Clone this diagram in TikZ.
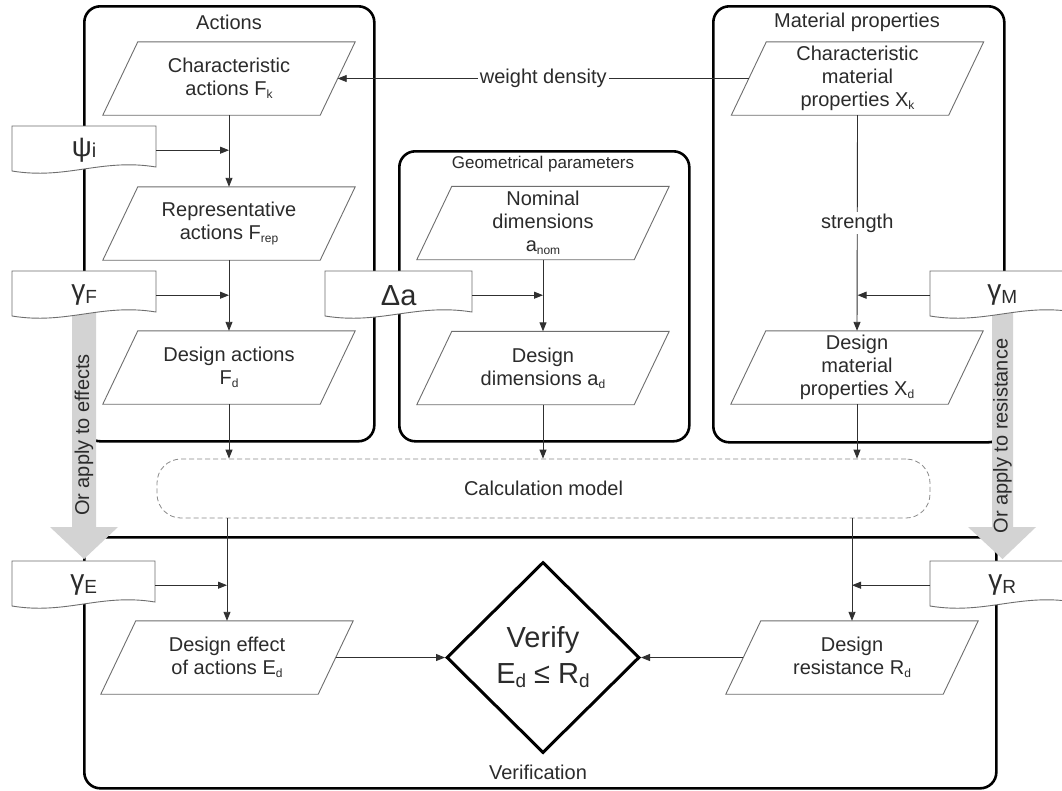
\documentclass[tikz,border=0pt]{standalone}
\usepackage{fontspec}
\setmainfont{Liberation Sans}
\usetikzlibrary{arrows.meta,shapes.geometric}

\definecolor{textc}{HTML}{2B2B2B}
\definecolor{linec}{HTML}{6E6E6E}
\definecolor{connc}{HTML}{303030}
\definecolor{bandc}{HTML}{D3D3D3}
\definecolor{dashc}{HTML}{8A8A8A}

% small subscript inside ordinary labels
\newcommand\sbs[1]{\raisebox{-0.3ex}{\fontsize{12}{12}\selectfont #1}}
% subscript of the partial factors
\newcommand\gsub[1]{\raisebox{-4pt}{\fontsize{19}{19}\selectfont #1}}
% subscript inside the verification diamond
\newcommand\dsub[1]{\raisebox{-4pt}{\fontsize{19}{19}\selectfont #1}}

% outline of a data parallelogram around a named node
\newcommand\paraframe[1]{%
  \draw[paraline] ([xshift=17.5pt]#1.north west) -- ([xshift=17.5pt]#1.north east)
    -- ([xshift=-17.5pt]#1.south east) -- ([xshift=-17.5pt]#1.south west) -- cycle;}

% punched-tape input: name, left x, top y, right x, content
\newcommand\mytape[5]{%
  \draw[tapeline] (#2,#3) -- (#4,#3) -- (#4,{#3+41})
    .. controls ({#2+0.62*(#4-#2)},{#3+32}) and ({#2+0.38*(#4-#2)},{#3+54}) .. (#2,{#3+45}) -- cycle;
  \node[tapebox, minimum width={#4-#2}] (#1) at (#2,#3) {#5};}

\begin{document}
\begin{tikzpicture}[x=1pt,y=-1pt,
  group/.style={draw=black, line width=2.6pt, rounded corners=16pt, inner sep=0pt, anchor=north west},
  title/.style={font=\fontsize{20}{23}\selectfont, text=textc, inner sep=1pt},
  para/.style={minimum width=217, minimum height=73, inner sep=0pt, align=center,
               font=\fontsize{20}{23}\selectfont, text=textc},
  paraline/.style={draw=linec, line width=0.9pt},
  tapeline/.style={draw=linec, line width=0.9pt, fill=white},
  tapebox/.style={inner sep=0pt, minimum height=48, anchor=north west, text=textc},
  conn/.style={draw=connc, line width=0.9pt, -{Triangle[length=9pt,width=7pt]}},
  lbl/.style={fill=white, inner sep=2pt, font=\fontsize{20}{23}\selectfont, text=textc},
  bandtext/.style={font=\fontsize{20}{23}\selectfont, text=textc, inner sep=0pt},
  greek/.style={}
]
\useasboundingbox (0,0) rectangle (1062,790);
\clip (0,0) rectangle (1062,790);
\fill[white] (0,0) rectangle (1062,790);

% group frames
\node[group, minimum width=290, minimum height=435] (actions) at (83,5) {};
\node[group, minimum width=290, minimum height=290] (geom) at (398,150) {};
\node[group, minimum width=291, minimum height=436] (matl) at (712,5) {};
\node[group, minimum width=912, minimum height=251] (verif) at (83,536) {};

\node[title] (tact) at (229,22) {Actions};
\node[title, font=\fontsize{17}{20}\selectfont] (tgeo) at (543,164) {Geometrical parameters};
\node[title] (tmat) at (857,22) {Material properties};
\node[title] (tver) at (538,772) {Verification};

% broad grey arrows for the alternative application of the factors
\fill[bandc] (72,300) -- (96,300) -- (96,527) -- (118,527) -- (84,559) -- (50,527) -- (72,527) -- cycle;
\node[bandtext, rotate=90] (effects) at (84,435) {Or apply to effects};
\fill[bandc] (992,300) -- (1013,300) -- (1013,527) -- (1036,527) -- (1002.5,559) -- (968,527) -- (992,527) -- cycle;
\node[bandtext, rotate=90] (resist) at (1002.5,436) {Or apply to resistance};

% factor inputs
\mytape{psi}{12}{126}{156}{{\fontsize{28}{28}\selectfont ψ}\raisebox{-1pt}{\fontsize{20}{20}\selectfont i}}
\mytape{gF}{12}{271}{156}{{\fontsize{28}{28}\selectfont γ}\gsub{F}}
\mytape{da}{325}{271}{472}{{\fontsize{29}{29}\selectfont Δa}}
\mytape{gE}{12}{561}{155}{{\fontsize{28}{28}\selectfont γ}\gsub{E}}
\mytape{gM}{930}{271}{1074}{{\fontsize{28}{28}\selectfont γ}\gsub{M}}
\mytape{gR}{930}{561}{1074}{{\fontsize{28}{28}\selectfont γ}\gsub{R}}

% data nodes
\node[para] (Fk)   at (229,78.5)  {Characteristic\\actions F\sbs{k}};
\node[para] (Frep) at (229,223.5) {Representative\\actions F\sbs{rep}};
\node[para] (Fd)   at (229,367.5) {Design actions\\F\sbs{d}};
\node[para] (anom) at (543,223)   {Nominal\\dimensions\\a\sbs{nom}};
\node[para] (ad)   at (543,368)   {Design\\dimensions a\sbs{d}};
\node[para] (Xk)   at (857.5,78.5) {Characteristic\\material\\properties X\sbs{k}};
\node[para] (Xd)   at (857,367.5) {Design\\material\\properties X\sbs{d}};
\node[para] (Ed)   at (227,657.5) {Design effect\\of actions E\sbs{d}};
\node[para] (Rd)   at (852,657.5) {Design\\resistance R\sbs{d}};
\foreach \n in {Fk,Frep,Fd,anom,ad,Xk,Xd,Ed,Rd} {\paraframe{\n}}

% calculation model
\node[draw=dashc, dash pattern=on 5pt off 3pt, line width=0.8pt, rounded corners=24pt,
      minimum width=773, minimum height=59, inner sep=0pt,
      font=\fontsize{20}{23}\selectfont, text=textc] (calcm) at (543.5,488.5) {Calculation model};

% verification
\node[diamond, draw=black, line width=3pt, minimum width=193, minimum height=191, inner sep=0pt,
      align=center, font=\fontsize{29}{36}\selectfont, text=textc] (ver) at (543,657.5)
      {Verify\\E\dsub{d} ≤ R\dsub{d}};

% connectors
\draw[conn] (Xk.west) -- node[lbl] (wd) {weight density} (Fk.east);
\draw[conn] (Fk.south) -- (Frep.north);
\draw[conn] (psi.east) -- (psi.east -| Fk.south);
\draw[conn] (Frep.south) -- (Fd.north);
\draw[conn] (gF.east) -- (gF.east -| Frep.south);
\draw[conn] (Fd.south) -- (Fd.south |- calcm.north);
\draw[conn] (anom.south) -- (ad.north);
\draw[conn] (da.east) -- (da.east -| anom.south);
\draw[conn] (ad.south) -- (ad.south |- calcm.north);
\draw[conn] (Xk.south) -- node[lbl] (str) {strength} (Xd.north);
\draw[conn] (gM.west) -- (gM.west -| Xk.south);
\draw[conn] (Xd.south) -- (Xd.south |- calcm.north);
\draw[conn] (Ed.north |- calcm.south) -- (Ed.north);
\draw[conn] (gE.east) -- (gE.east -| Ed.north);
\draw[conn] (Rd.north |- calcm.south) -- (Rd.north);
\draw[conn] (gR.west) -- (gR.west -| Rd.north);
\draw[conn] (Ed.east) -- (ver.west);
\draw[conn] (Rd.west) -- (ver.east);
\end{tikzpicture}
\end{document}
